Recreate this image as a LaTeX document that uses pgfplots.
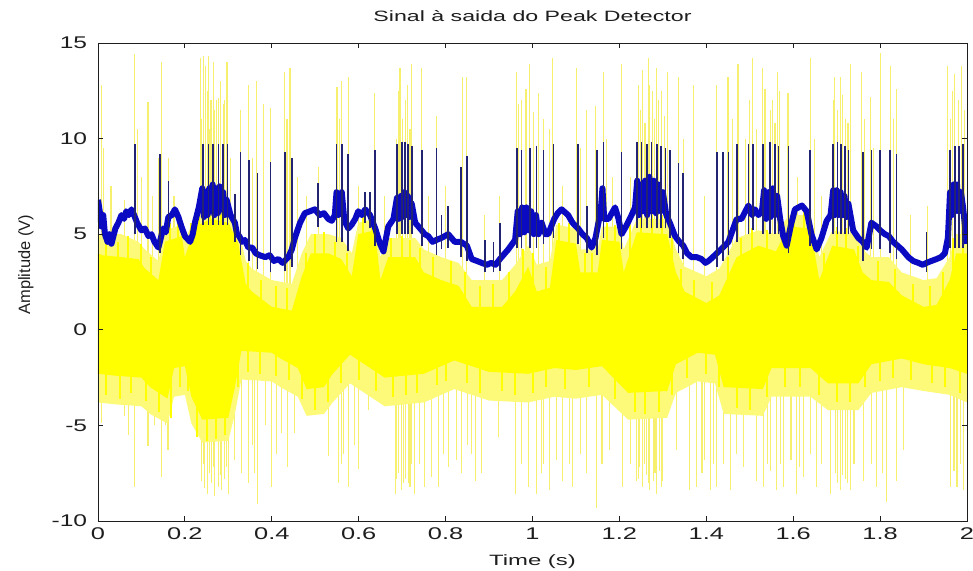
\documentclass[border=0pt]{standalone}
\usepackage{pgfplots}
\pgfplotsset{compat=1.18}
\usepackage{fontspec}
\setmainfont{Liberation Sans}
\definecolor{ycore}{RGB}{255,255,0}
\definecolor{yfuzz}{RGB}{252,250,120}
\definecolor{yspike}{RGB}{246,240,110}
\definecolor{bband}{RGB}{10,10,195}
\definecolor{bspike}{RGB}{35,35,115}
\definecolor{axgray}{RGB}{30,30,30}
\begin{document}
\begin{tikzpicture}
\useasboundingbox (-98bp,-50bp) rectangle (875bp,521bp);
\begin{axis}[
  at={(0,0)}, anchor=south west,
  scale only axis, width=869bp, height=478bp,
  xmin=0, xmax=2, ymin=-10, ymax=15,
  xtick={0,0.2,0.4,0.6,0.8,1,1.2,1.4,1.6,1.8,2},
  xticklabels={0,0.2,0.4,0.6,0.8,1,1.2,1.4,1.6,1.8,2},
  ytick={-10,-5,0,5,10,15},
  yticklabels={-10,-5,0,5,10,15},
  tick pos=both, tick align=inside, major tick length=5bp,
  axis line style={axgray, line width=0.9bp},
  every tick/.style={axgray, line width=0.9bp},
  axis on top,
  unbounded coords=jump,
  ticklabel style={font=\fontsize{17}{17}\selectfont, text=axgray},
  x tick label style={xscale=1.5, yshift=-3bp},
  y tick label style={xscale=1.45, xshift=-4bp},
  title={Sinal à saida do Peak Detector},
  title style={font=\fontsize{15}{15}\selectfont, text=axgray, xscale=1.55, at={(axis description cs:0.5,1)}, anchor=base, yshift=16bp},
  xlabel={Time (s)},
  xlabel style={font=\fontsize{15}{15}\selectfont, text=axgray, xscale=1.6, at={(axis description cs:0.5,0)}, anchor=base, yshift=-44bp},
  ylabel={Amplitude (V)},
  ylabel style={font=\fontsize{16.5}{16.5}\selectfont, text=axgray, at={(axis description cs:-0.083,0.536)}, anchor=center},
]
% yellow upward spikes
\addplot[ycomb, yspike, line width=1.1bp, mark=none] coordinates {
(0.002,13.5) (0.008,12.8) (0.012,9.5) (0.030,7.5) (0.060,6.8) (0.085,14.4) (0.100,8.0) (0.115,11.9) (0.125,7.0) (0.147,14.0) (0.162,9.0) (0.175,7.0) (0.235,14.2) (0.242,14.3) (0.248,13.8) (0.254,14.3) (0.260,12.0) (0.265,14.0) (0.272,12.0) (0.277,12.1) (0.288,11.8) (0.297,14.0) (0.305,9.0) (0.328,11.5) (0.346,12.8) (0.365,13.0) (0.380,11.8) (0.396,11.6) (0.430,13.5) (0.442,13.7) (0.460,8.0) (0.480,7.0) (0.507,8.5) (0.550,12.7) (0.561,13.0) (0.576,13.2) (0.600,7.5) (0.637,12.4) (0.660,7.0) (0.688,10.0) (0.695,13.7) (0.707,12.0) (0.722,13.9) (0.745,13.7) (0.760,7.0) (0.780,11.2) (0.800,7.5) (0.838,13.2) (0.849,13.2) (0.890,6.0) (0.925,7.0) (0.964,13.5) (0.975,12.0) (0.994,13.9) (1.013,12.4) (1.025,11.0) (1.047,14.2) (1.070,7.5) (1.102,13.7) (1.125,11.5) (1.144,11.7) (1.163,13.5) (1.185,8.0) (1.205,13.9) (1.225,8.0) (1.243,12.8) (1.254,13.6) (1.266,14.2) (1.276,12.5) (1.286,13.7) (1.296,12.5) (1.310,13.5) (1.335,13.2) (1.348,10.0) (1.370,12.8) (1.395,7.0) (1.424,12.8) (1.450,13.2) (1.473,13.9) (1.490,10.0) (1.507,14.2) (1.530,13.7) (1.547,11.5) (1.563,13.5) (1.588,12.4) (1.610,8.0) (1.639,14.2) (1.665,7.0) (1.696,13.2) (1.708,13.2) (1.720,11.0) (1.731,13.9) (1.758,13.5) (1.777,12.2) (1.800,14.5) (1.823,13.8) (1.838,12.6) (1.870,6.0) (1.910,6.5) (1.956,13.8) (1.962,11.0) (1.972,13.4) (1.988,13.8)
(0.238,11.0) (0.251,12.5) (0.257,10.5) (0.268,11.5) (0.281,13.0) (0.292,12.0) (1.248,11.5) (1.259,10.8) (1.270,12.8) (1.281,11.0) (1.291,12.0) (1.303,11.2) (0.692,12.5) (0.700,11.0) (0.712,12.8) (0.718,10.5) (1.692,12.0) (1.702,11.5) (1.714,12.3) (1.726,10.8) (1.535,12.6) (1.552,12.0) (1.558,10.8) (1.568,12.5) (1.966,12.5) (1.980,12.0) (1.995,11.5) (0.555,11.0) (0.968,11.8) (0.985,12.6) (1.003,11.4) (1.040,10.5) (1.110,9.5) (1.170,10.0) (1.460,11.0) (1.500,12.0) (1.515,10.5) (1.648,10.0) (1.765,11.0) (1.785,9.5) (1.830,11.0) (0.090,10.5) (0.140,9.0) (0.435,11.0) (0.355,9.0)
};
% yellow downward spikes
\addplot[ycomb, yspike, line width=1.1bp, mark=none] coordinates {
(0.002,-7.7) (0.009,-4.9) (0.039,-3.7) (0.060,-4.5) (0.085,-8.2) (0.100,-4.0) (0.115,-6.1) (0.130,-5.0) (0.147,-7.7) (0.161,-6.3) (0.239,-7.9) (0.246,-8.3) (0.253,-8.6) (0.261,-8.0) (0.269,-8.7) (0.277,-8.2) (0.285,-8.4) (0.292,-7.8) (0.300,-8.6) (0.315,-6.8) (0.331,-7.5) (0.346,-8.0) (0.356,-6.0) (0.368,-9.1) (0.385,-5.0) (0.400,-8.2) (0.423,-5.4) (0.437,-7.2) (0.453,-5.4) (0.469,-3.3) (0.530,-6.6) (0.553,-8.0) (0.565,-6.5) (0.576,-8.2) (0.599,-7.3) (0.622,-4.2) (0.653,-3.8) (0.684,-8.6) (0.692,-7.5) (0.699,-8.4) (0.707,-7.8) (0.714,-8.0) (0.722,-7.0) (0.729,-8.6) (0.752,-8.2) (0.768,-7.7) (0.783,-8.2) (0.806,-7.2) (0.837,-7.5) (0.850,-6.0) (0.868,-7.9) (0.883,-7.5) (0.921,-5.6) (0.960,-8.6) (0.975,-7.0) (0.990,-8.2) (1.010,-8.6) (1.025,-7.0) (1.040,-8.4) (1.070,-7.9) (1.093,-8.2) (1.110,-6.5) (1.125,-7.5) (1.148,-9.3) (1.178,-6.3) (1.208,-8.2) (1.240,-7.9) (1.247,-7.2) (1.254,-8.2) (1.262,-7.6) (1.270,-8.4) (1.278,-7.9) (1.286,-8.6) (1.293,-7.4) (1.300,-7.9) (1.332,-6.3) (1.362,-8.4) (1.378,-8.2) (1.395,-6.8) (1.409,-8.4) (1.424,-8.2) (1.440,-7.0) (1.455,-8.4) (1.485,-7.2) (1.516,-7.9) (1.531,-8.2) (1.547,-7.4) (1.562,-8.4) (1.577,-8.2) (1.595,-6.8) (1.608,-8.6) (1.623,-7.7) (1.640,-6.5) (1.654,-8.2) (1.685,-8.6) (1.697,-7.5) (1.708,-8.4) (1.720,-7.8) (1.731,-8.4) (1.761,-7.9) (1.792,-8.2) (1.815,-9.0) (1.838,-7.9) (1.853,-6.3) (1.961,-8.2) (1.977,-8.2) (1.991,-8.4)
(0.243,-7.0) (0.257,-7.5) (0.265,-7.2) (0.281,-7.6) (0.296,-7.2) (1.244,-7.8) (1.258,-7.0) (1.266,-8.0) (1.282,-7.5) (1.297,-8.2) (0.688,-7.8) (0.703,-8.0) (0.718,-8.2) (1.702,-8.0) (1.714,-7.6) (1.725,-8.0) (0.560,-7.0) (0.590,-6.0) (0.740,-7.0) (0.795,-6.5) (0.825,-6.8) (0.860,-6.5) (1.020,-7.5) (1.055,-6.8) (1.085,-7.0) (1.160,-7.0) (1.225,-7.0) (1.390,-7.5) (1.416,-7.0) (1.470,-6.5) (1.540,-7.0) (1.570,-7.0) (1.615,-7.2) (1.665,-7.0) (1.740,-7.0) (1.780,-7.0) (1.805,-7.5) (1.970,-7.4) (1.984,-7.0) (0.070,-5.5) (0.155,-5.0) (0.410,-6.5) (0.360,-7.5)
};
% pale fuzz around the dense core
\addplot[fill=yfuzz, draw=none, mark=none] coordinates {
(0.000,5.0) (0.054,5.0) (0.093,4.6) (0.108,4.2) (0.139,3.6) (0.154,5.2) (0.193,5.5) (0.200,4.6) (0.223,6.0) (0.300,6.2) (0.323,5.3) (0.340,3.6) (0.354,3.2) (0.400,2.6) (0.446,2.4) (0.469,4.0) (0.490,5.0) (0.530,5.0) (0.560,4.8) (0.584,4.0) (0.599,5.6) (0.637,5.8) (0.650,3.8) (0.668,4.8) (0.730,4.8) (0.750,4.2) (0.790,3.8) (0.830,3.5) (0.860,2.6) (0.930,2.6) (0.960,3.4) (0.990,4.4) (1.010,3.4) (1.040,3.6) (1.055,5.5) (1.100,5.3) (1.110,4.2) (1.150,4.2) (1.160,5.4) (1.200,5.4) (1.210,4.2) (1.240,5.8) (1.310,5.8) (1.330,4.2) (1.350,3.3) (1.400,2.8) (1.430,3.2) (1.470,4.8) (1.520,5.2) (1.560,5.0) (1.590,6.0) (1.640,6.0) (1.660,3.8) (1.690,5.2) (1.740,5.0) (1.760,4.2) (1.780,3.8) (1.820,3.8) (1.850,3.0) (1.900,2.6) (1.930,2.7) (1.960,3.8) (1.975,5.0) (2.000,5.0)
(2.000,-3.8) (1.960,-3.4) (1.900,-3.2) (1.850,-3.0) (1.780,-3.3) (1.750,-4.2) (1.680,-4.2) (1.640,-3.5) (1.550,-3.5) (1.530,-4.5) (1.440,-4.4) (1.420,-2.8) (1.380,-2.7) (1.330,-3.3) (1.310,-4.6) (1.220,-4.7) (1.160,-3.4) (1.100,-3.6) (1.050,-3.5) (0.990,-3.8) (0.900,-3.7) (0.820,-3.1) (0.750,-3.8) (0.660,-4.0) (0.620,-3.4) (0.580,-2.8) (0.540,-3.8) (0.520,-4.4) (0.480,-4.5) (0.460,-3.5) (0.420,-3.0) (0.400,-2.7) (0.330,-2.6) (0.315,-4.4) (0.300,-5.8) (0.240,-5.9) (0.215,-4.9) (0.200,-3.4) (0.175,-3.5) (0.160,-4.9) (0.120,-4.4) (0.100,-4.0) (0.040,-3.9) (0.000,-3.8)
};
% bright fringe of the core (upper)
\addplot[ycomb, ycore, line width=2bp, mark=none] coordinates {
(0.018,4.9) (0.045,4.6) (0.070,4.9) (0.098,4.5) (0.122,3.8) (0.165,5.6) (0.185,5.7) (0.215,5.6) (0.232,6.3) (0.258,6.5) (0.283,6.4) (0.312,5.6) (0.345,3.5) (0.375,2.6) (0.410,2.3) (0.435,2.2) (0.478,4.0) (0.500,5.0) (0.520,5.1) (0.545,4.6) (0.573,4.0) (0.610,6.0) (0.630,6.0) (0.675,4.8) (0.700,4.9) (0.718,4.7) (0.742,4.3) (0.770,3.8) (0.812,3.6) (0.845,3.0) (0.880,2.3) (0.910,2.4) (0.945,3.0) (0.978,4.2) (1.000,4.0) (1.030,3.3) (1.062,5.6) (1.085,5.6) (1.120,4.0) (1.138,4.0) (1.172,5.6) (1.190,5.5) (1.225,5.5) (1.250,6.1) (1.275,6.0) (1.298,6.0) (1.320,4.8) (1.342,3.2) (1.372,2.6) (1.412,2.5) (1.450,3.8) (1.480,4.8) (1.505,5.3) (1.540,5.2) (1.575,5.4) (1.602,6.2) (1.625,6.2) (1.670,4.0) (1.700,5.4) (1.722,5.3) (1.750,4.4) (1.795,3.6) (1.835,3.2) (1.875,2.4) (1.915,2.3) (1.945,3.0) (1.968,4.8) (1.990,5.0)
};
% bright fringe of the core (lower)
\addplot[ycomb, ycore, line width=2bp, mark=none] coordinates {
(0.018,-3.4) (0.050,-3.6) (0.075,-3.3) (0.110,-3.7) (0.140,-4.3) (0.168,-4.6) (0.188,-3.0) (0.208,-3.2) (0.228,-5.6) (0.250,-5.8) (0.272,-5.7) (0.292,-5.5) (0.322,-3.0) (0.345,-2.2) (0.372,-2.3) (0.410,-2.4) (0.440,-2.6) (0.470,-3.6) (0.500,-4.2) (0.530,-3.8) (0.560,-2.8) (0.600,-2.6) (0.640,-3.2) (0.680,-3.5) (0.710,-3.4) (0.735,-3.3) (0.780,-2.9) (0.800,-2.7) (0.850,-2.8) (0.880,-3.3) (0.930,-3.2) (0.960,-3.4) (1.000,-3.3) (1.030,-3.0) (1.075,-3.1) (1.130,-3.0) (1.190,-3.6) (1.235,-4.3) (1.260,-4.4) (1.290,-4.3) (1.320,-3.4) (1.355,-2.5) (1.400,-2.3) (1.430,-3.0) (1.470,-4.1) (1.500,-4.2) (1.540,-3.5) (1.580,-3.0) (1.615,-3.0) (1.660,-3.4) (1.700,-3.8) (1.730,-3.8) (1.765,-3.0) (1.800,-2.7) (1.830,-2.5) (1.870,-2.6) (1.920,-2.8) (1.950,-3.0) (1.985,-3.3)
};
% yellow dense core
\addplot[fill=ycore, draw=none, mark=none] coordinates {
(0.000,4.0) (0.010,3.9) (0.054,3.8) (0.093,3.7) (0.108,3.2) (0.139,2.6) (0.154,4.6) (0.193,4.9) (0.200,3.8) (0.223,5.4) (0.260,5.8) (0.300,5.6) (0.323,4.5) (0.340,2.4) (0.354,2.0) (0.400,1.2) (0.446,1.0) (0.469,2.8) (0.490,4.0) (0.530,4.0) (0.560,3.7) (0.584,2.8) (0.599,5.0) (0.637,5.2) (0.650,2.6) (0.668,3.8) (0.730,3.8) (0.750,3.0) (0.790,2.6) (0.830,2.3) (0.860,1.2) (0.930,1.2) (0.960,2.0) (0.990,3.3) (1.010,2.0) (1.040,2.2) (1.055,4.7) (1.100,4.5) (1.110,3.0) (1.150,3.0) (1.160,4.7) (1.200,4.6) (1.210,3.0) (1.240,5.1) (1.310,5.0) (1.330,3.0) (1.350,2.0) (1.400,1.4) (1.430,1.8) (1.470,3.8) (1.520,4.4) (1.560,4.1) (1.590,5.4) (1.640,5.3) (1.660,2.6) (1.690,4.4) (1.740,4.2) (1.760,3.0) (1.780,2.6) (1.820,2.5) (1.850,1.8) (1.900,1.2) (1.930,1.3) (1.960,2.6) (1.975,4.0) (2.000,4.0)
(2.000,-2.3) (1.960,-2.0) (1.900,-1.8) (1.850,-1.5) (1.780,-1.8) (1.750,-2.8) (1.680,-2.8) (1.640,-2.0) (1.550,-2.0) (1.530,-3.1) (1.440,-3.0) (1.420,-1.3) (1.380,-1.2) (1.330,-1.8) (1.310,-3.2) (1.220,-3.3) (1.160,-1.9) (1.100,-2.1) (1.050,-2.0) (0.990,-2.3) (0.900,-2.2) (0.820,-1.6) (0.750,-2.3) (0.660,-2.5) (0.620,-1.9) (0.580,-1.3) (0.540,-2.3) (0.520,-3.0) (0.480,-3.1) (0.460,-2.0) (0.420,-1.5) (0.400,-1.2) (0.330,-1.1) (0.315,-3.0) (0.300,-4.6) (0.240,-4.7) (0.215,-3.5) (0.200,-1.9) (0.175,-2.0) (0.160,-3.6) (0.120,-3.0) (0.100,-2.5) (0.040,-2.4) (0.000,-2.3)
};
% blue band (peak detector output)
\addplot[bband, line width=6bp, line join=round, mark=none] coordinates {
(0.000,6.8) (0.004,6.2) (0.008,5.4) (0.012,6.0) (0.016,5.0) (0.022,4.6) (0.026,5.0) (0.031,4.5) (0.040,5.3) (0.047,5.6) (0.054,6.0) (0.060,5.8) (0.065,6.2) (0.071,6.0) (0.077,6.3) (0.083,6.0) (0.090,5.6) (0.100,5.2) (0.108,5.3) (0.116,4.9) (0.123,5.0) (0.130,4.6) (0.139,4.3) (0.150,5.3) (0.156,5.1) (0.162,5.9) (0.170,6.0) (0.177,6.3) (0.185,5.9) (0.192,5.4) (0.200,4.9) (0.212,4.6) (0.218,5.0) (0.223,5.6) (0.232,6.4) (0.240,7.4) (0.244,5.9) (0.248,7.2) (0.252,6.0) (0.256,7.4) (0.260,6.2) (0.264,7.6) (0.268,6.0) (0.272,7.4) (0.276,6.1) (0.280,7.5) (0.284,6.3) (0.288,7.2) (0.292,6.0) (0.296,6.8) (0.305,6.0) (0.315,5.6) (0.320,5.0) (0.325,4.9) (0.332,4.6) (0.338,4.7) (0.346,4.3) (0.355,4.3) (0.363,4.0) (0.372,3.9) (0.385,3.8) (0.395,3.9) (0.405,3.6) (0.415,3.7) (0.425,3.5) (0.438,3.8) (0.446,4.2) (0.453,4.8) (0.465,5.6) (0.476,6.1) (0.488,6.2) (0.499,6.3) (0.510,6.0) (0.520,6.1) (0.530,5.8) (0.538,5.7) (0.545,6.0) (0.549,7.2) (0.553,6.0) (0.557,6.8) (0.561,7.2) (0.567,5.7) (0.576,5.3) (0.584,5.5) (0.592,5.8) (0.599,6.2) (0.607,6.0) (0.615,6.3) (0.626,6.0) (0.638,5.3) (0.649,4.5) (0.657,4.1) (0.668,5.4) (0.680,5.8) (0.688,6.9) (0.692,5.8) (0.697,7.0) (0.701,5.9) (0.705,7.2) (0.709,6.0) (0.713,7.0) (0.717,5.9) (0.722,6.6) (0.730,5.6) (0.745,5.2) (0.752,5.0) (0.760,4.9) (0.770,4.6) (0.779,4.7) (0.790,4.8) (0.806,5.0) (0.821,4.6) (0.835,4.6) (0.849,4.4) (0.860,3.7) (0.872,3.6) (0.883,3.5) (0.895,3.4) (0.905,3.5) (0.915,3.4) (0.925,3.7) (0.944,4.2) (0.960,4.7) (0.966,6.2) (0.971,5.0) (0.976,6.4) (0.981,5.1) (0.986,6.4) (0.992,5.2) (0.997,6.2) (1.003,5.0) (1.008,6.0) (1.014,5.0) (1.021,5.6) (1.030,5.0) (1.036,5.0) (1.043,5.4) (1.050,5.8) (1.058,6.1) (1.067,6.3) (1.082,6.0) (1.092,5.6) (1.105,5.3) (1.115,5.0) (1.125,4.8) (1.136,4.3) (1.145,4.8) (1.150,5.4) (1.157,6.2) (1.161,7.4) (1.165,5.8) (1.175,5.8) (1.190,6.4) (1.198,5.8) (1.205,5.0) (1.215,5.4) (1.228,6.0) (1.236,6.4) (1.241,7.8) (1.245,6.0) (1.250,7.6) (1.254,6.2) (1.259,7.8) (1.264,6.0) (1.269,8.0) (1.274,6.2) (1.279,7.8) (1.284,6.1) (1.290,7.6) (1.295,6.2) (1.300,7.2) (1.308,6.0) (1.316,5.6) (1.328,4.9) (1.338,4.6) (1.347,4.4) (1.356,4.0) (1.366,3.8) (1.378,3.8) (1.389,3.7) (1.398,3.5) (1.405,3.6) (1.415,3.8) (1.424,4.0) (1.438,4.3) (1.451,4.6) (1.462,5.3) (1.470,5.8) (1.481,5.8) (1.490,6.2) (1.497,6.5) (1.505,6.0) (1.512,6.3) (1.520,6.0) (1.528,6.2) (1.533,7.3) (1.538,5.8) (1.543,7.2) (1.548,5.9) (1.553,7.4) (1.558,6.0) (1.563,7.0) (1.570,5.8) (1.577,4.9) (1.585,4.4) (1.595,5.5) (1.604,6.3) (1.612,6.4) (1.620,6.5) (1.631,6.2) (1.642,5.0) (1.654,4.2) (1.665,4.8) (1.677,5.7) (1.686,6.0) (1.692,7.3) (1.696,6.0) (1.700,7.3) (1.705,6.0) (1.709,7.2) (1.714,6.0) (1.718,7.0) (1.723,5.9) (1.727,6.6) (1.738,5.2) (1.750,4.8) (1.760,4.6) (1.769,4.3) (1.775,5.0) (1.780,5.6) (1.792,5.4) (1.800,5.2) (1.811,5.0) (1.820,4.9) (1.830,4.6) (1.840,4.4) (1.850,4.2) (1.865,3.8) (1.876,3.6) (1.888,3.5) (1.898,3.4) (1.907,3.5) (1.918,3.6) (1.930,3.7) (1.940,3.8) (1.949,4.0) (1.956,4.8) (1.961,7.2) (1.965,6.0) (1.969,7.6) (1.973,6.2) (1.977,7.6) (1.981,6.2) (1.986,7.2) (1.991,6.4) (1.995,5.5) (2.000,4.5)
};
% blue spikes
\addplot[bspike, line width=1.6bp, mark=none] coordinates {
(0.001,5.0) (0.001,9.5) (0.001,nan)
(0.085,5.0) (0.085,9.7) (0.085,nan)
(0.143,4.0) (0.143,9.2) (0.143,nan)
(0.162,5.2) (0.162,7.8) (0.162,nan)
(0.242,5.5) (0.242,9.7) (0.242,nan)
(0.254,5.5) (0.254,9.7) (0.254,nan)
(0.265,5.5) (0.265,9.7) (0.265,nan)
(0.277,5.5) (0.277,9.7) (0.277,nan)
(0.288,5.5) (0.288,9.7) (0.288,nan)
(0.298,5.5) (0.298,9.7) (0.298,nan)
(0.315,4.6) (0.315,7.1) (0.315,nan)
(0.328,3.9) (0.328,9.3) (0.328,nan)
(0.348,3.6) (0.348,8.9) (0.348,nan)
(0.367,3.2) (0.367,8.2) (0.367,nan)
(0.397,3.0) (0.397,8.8) (0.397,nan)
(0.430,3.1) (0.430,9.3) (0.430,nan)
(0.446,3.3) (0.446,9.0) (0.446,nan)
(0.507,5.4) (0.507,7.7) (0.507,nan)
(0.549,4.6) (0.549,9.7) (0.549,nan)
(0.561,4.6) (0.561,9.7) (0.561,nan)
(0.576,4.1) (0.576,9.2) (0.576,nan)
(0.615,5.6) (0.615,7.2) (0.615,nan)
(0.626,5.3) (0.626,7.2) (0.626,nan)
(0.638,4.4) (0.638,9.4) (0.638,nan)
(0.688,5.0) (0.688,9.7) (0.688,nan)
(0.699,5.0) (0.699,9.8) (0.699,nan)
(0.707,5.0) (0.707,9.8) (0.707,nan)
(0.714,5.0) (0.714,9.7) (0.714,nan)
(0.722,5.0) (0.722,9.6) (0.722,nan)
(0.745,4.4) (0.745,9.4) (0.745,nan)
(0.779,3.9) (0.779,9.5) (0.779,nan)
(0.791,4.2) (0.791,6.0) (0.791,nan)
(0.806,4.3) (0.806,6.5) (0.806,nan)
(0.835,3.8) (0.835,8.5) (0.835,nan)
(0.849,3.6) (0.849,9.1) (0.849,nan)
(0.891,3.0) (0.891,4.7) (0.891,nan)
(0.910,3.0) (0.910,4.6) (0.910,nan)
(0.925,3.1) (0.925,5.6) (0.925,nan)
(0.964,4.3) (0.964,9.5) (0.964,nan)
(0.975,4.3) (0.975,9.4) (0.975,nan)
(0.994,4.3) (0.994,9.5) (0.994,nan)
(1.009,4.3) (1.009,9.6) (1.009,nan)
(1.025,4.5) (1.025,9.4) (1.025,nan)
(1.048,4.8) (1.048,9.7) (1.048,nan)
(1.105,4.5) (1.105,9.7) (1.105,nan)
(1.125,4.0) (1.125,6.5) (1.125,nan)
(1.148,3.9) (1.148,9.4) (1.148,nan)
(1.163,4.8) (1.163,9.8) (1.163,nan)
(1.205,4.2) (1.205,9.3) (1.205,nan)
(1.240,5.3) (1.240,9.8) (1.240,nan)
(1.251,5.3) (1.251,9.8) (1.251,nan)
(1.263,5.3) (1.263,9.7) (1.263,nan)
(1.274,5.3) (1.274,9.8) (1.274,nan)
(1.286,5.3) (1.286,9.7) (1.286,nan)
(1.296,5.3) (1.296,9.6) (1.296,nan)
(1.306,5.3) (1.306,9.5) (1.306,nan)
(1.316,4.8) (1.316,9.4) (1.316,nan)
(1.336,4.0) (1.336,8.7) (1.336,nan)
(1.347,3.7) (1.347,8.2) (1.347,nan)
(1.424,3.3) (1.424,9.3) (1.424,nan)
(1.439,3.6) (1.439,9.3) (1.439,nan)
(1.451,3.9) (1.451,9.3) (1.451,nan)
(1.470,4.6) (1.470,9.7) (1.470,nan)
(1.497,5.0) (1.497,9.7) (1.497,nan)
(1.508,5.2) (1.508,9.7) (1.508,nan)
(1.531,5.0) (1.531,9.7) (1.531,nan)
(1.547,5.0) (1.547,9.8) (1.547,nan)
(1.558,5.0) (1.558,9.7) (1.558,nan)
(1.566,5.0) (1.566,9.6) (1.566,nan)
(1.589,4.0) (1.589,9.6) (1.589,nan)
(1.639,4.4) (1.639,9.4) (1.639,nan)
(1.692,5.0) (1.692,9.7) (1.692,nan)
(1.702,5.0) (1.702,9.8) (1.702,nan)
(1.710,5.0) (1.710,9.7) (1.710,nan)
(1.719,5.0) (1.719,9.6) (1.719,nan)
(1.727,5.0) (1.727,9.4) (1.727,nan)
(1.761,3.6) (1.761,9.3) (1.761,nan)
(1.780,4.2) (1.780,9.4) (1.780,nan)
(1.800,4.2) (1.800,9.4) (1.800,nan)
(1.823,4.0) (1.823,9.4) (1.823,nan)
(1.838,3.7) (1.838,9.2) (1.838,nan)
(1.907,3.0) (1.907,5.1) (1.907,nan)
(1.961,4.3) (1.961,9.4) (1.961,nan)
(1.972,4.3) (1.972,9.6) (1.972,nan)
(1.981,4.3) (1.981,9.6) (1.981,nan)
(1.991,4.3) (1.991,9.7)
};
\end{axis}
\end{tikzpicture}
\end{document}
